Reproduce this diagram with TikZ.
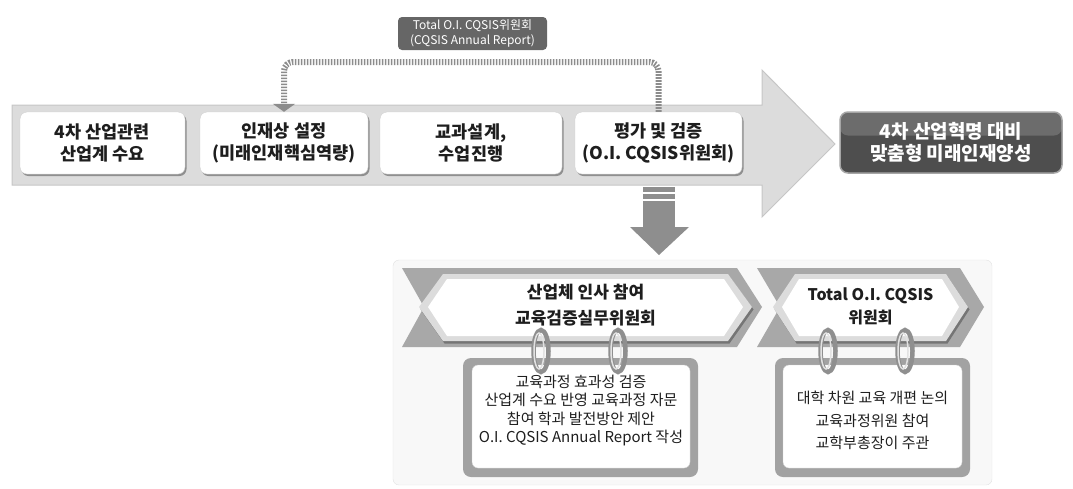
\documentclass[tikz,border=0pt]{standalone}
\usepackage{fontspec}
\setmainfont{Noto Sans CJK KR}
\usetikzlibrary{arrows.meta,shadows}

\definecolor{arrowfill}{HTML}{DCDCDC}
\definecolor{arrowedge}{HTML}{C6C6C6}
\definecolor{boxedge}{HTML}{D0D0D0}
\definecolor{textdark}{HTML}{1E1E1E}
\definecolor{dotgray}{HTML}{8C8C8C}
\definecolor{tagfill}{HTML}{666666}
\definecolor{goallow}{HTML}{4E4E4E}
\definecolor{goaltop}{HTML}{6C6C6C}
\definecolor{goaledge}{HTML}{A6A6A6}
\definecolor{downgray}{HTML}{8E8E8E}
\definecolor{panelfill}{HTML}{F8F8F8}
\definecolor{paneledge}{HTML}{E2E2E2}
\definecolor{bandgray}{HTML}{A8A8A8}
\definecolor{bevel}{HTML}{DCDCDC}
\definecolor{cardgray}{HTML}{A2A2A2}
\definecolor{ringdark}{HTML}{8F8F8F}
\definecolor{ringlight}{HTML}{E2E2E2}

\tikzset{
  flowbox/.style={draw=boxedge, fill=white, rounded corners=7pt,
    minimum height=62pt, align=center, inner sep=0pt, text=textdark,
    font=\fontsize{17.5}{22}\selectfont\bfseries,
    drop shadow={shadow xshift=1.5pt, shadow yshift=-2pt, fill=black, opacity=0.35}},
  goalbox/.style={draw=goaledge, line width=1.5pt, fill=goallow, rounded corners=8pt,
    align=center, inner sep=0pt, text=white,
    font=\fontsize{19}{22}\selectfont\bfseries,
    path picture={\fill[goaltop] (path picture bounding box.north west)
      rectangle ([yshift=7pt]path picture bounding box.east);}},
  tagbox/.style={fill=tagfill, rounded corners=4pt, align=center, inner sep=0pt,
    text=white, font=\fontsize{12}{15.5}\selectfont},
  dotconn/.style={draw=dotgray, line width=6pt, dash pattern=on 1.6pt off 1.4pt,
    rounded corners=9pt, -{Triangle[width=22pt,length=8pt]}},
  hexlabel/.style={align=center, inner sep=0pt, text=textdark},
  cardtext/.style={align=center, inner sep=0pt, text=textdark},
  ring/.style={draw=ringdark, line width=4.5pt},
  ringshine/.style={draw=ringlight, line width=1.5pt},
}

\begin{document}
\begin{tikzpicture}[x=1pt,y=-1pt]
\useasboundingbox (0,0) rectangle (1073,488);

% main process arrow
\fill[arrowfill, draw=arrowedge, line width=1pt]
  (12,105) -- (762,105) -- (762,70) -- (835,144) -- (762,217) -- (762,185) -- (12,185) -- cycle;

% process steps
\node[flowbox, minimum width=165pt] (b1) at (102.5,143) {4차 산업관련\\산업계 수요};
\node[flowbox, minimum width=168pt] (b2) at (284,143) {인재상 설정\\(미래인재핵심역량)};
\node[flowbox, minimum width=182pt] (b3) at (471,143) {교과설계,\\수업진행};
\node[flowbox, minimum width=167pt] (b4) at (658.5,143) {평가 및 검증\\(O.I. CQSIS위원회)};

% goal
\node[goalbox, minimum width=222pt, minimum height=61pt] (goal) at (951,142.5)
  {4차 산업혁명 대비\\맞춤형 미래인재양성};

% feedback loop
\node[tagbox, minimum width=149pt, minimum height=33pt] (tag) at (472.5,33.5)
  {Total O.I. CQSIS위원회\\(CQSIS Annual Report)};
\coordinate (loop) at (472,62);
\draw[dotconn] (b4.north) |- (loop) -| (b2.north);

% downward arrow
\fill[downgray] (643,187) rectangle (675,192);
\fill[downgray] (643,194) rectangle (675,199);
\fill[downgray] (643,201) rectangle (675,228);
\fill[downgray] (630,227) -- (689,227) -- (659,255) -- cycle;

% committee panel
\filldraw[fill=panelfill, draw=paneledge, rounded corners=6pt] (393,260) rectangle (992,485);

% chevron bands
\fill[bandgray] (402,268) -- (737,268) -- (762,307) -- (737,347) -- (402,347) -- (424,307) -- cycle;
\fill[bandgray] (757,268) -- (960,268) -- (984,307) -- (960,347) -- (757,347) -- (780,307) -- cycle;

% hexagon plates
\fill[bevel, drop shadow={shadow xshift=1.5pt, shadow yshift=-2.5pt, fill=black, opacity=0.3}]
  (419,307) -- (443,274) -- (728,274) -- (752,307) -- (728,341) -- (443,341) -- cycle;
\fill[white] (428,307) -- (447,279) -- (724,279) -- (743,307) -- (724,336) -- (447,336) -- cycle;
\fill[bevel, drop shadow={shadow xshift=1.5pt, shadow yshift=-2.5pt, fill=black, opacity=0.3}]
  (773,307) -- (795,274) -- (946,274) -- (968,307) -- (946,341) -- (795,341) -- cycle;
\fill[white] (782,307) -- (799,279) -- (942,279) -- (959,307) -- (942,336) -- (799,336) -- cycle;

% cards
\fill[cardgray, rounded corners=8pt] (463,358) rectangle (698,477);
\filldraw[fill=white, draw=boxedge, rounded corners=6pt] (472,365) rectangle (690,468);
\fill[cardgray, rounded corners=8pt] (775,358) rectangle (970,477);
\filldraw[fill=white, draw=boxedge, rounded corners=6pt] (783,365) rectangle (962,468);

% binder rings
\foreach \rx in {541,618,828,905} {
  \draw[ring] (\rx,351) ellipse [x radius=7.5pt, y radius=21pt];
  \draw[ringshine] (\rx-2,351) ellipse [x radius=5pt, y radius=18pt];
}

% committee texts
\node[hexlabel, font=\fontsize{17}{26}\selectfont\bfseries] (h1) at (585.5,305.5)
  {산업체 인사 참여\\교육검증실무위원회};
\node[hexlabel, font=\fontsize{16}{23}\selectfont\bfseries] (h2) at (870.5,306.5)
  {Total O.I. CQSIS\\위원회};
\node[cardtext, font=\fontsize{15}{18.5}\selectfont] (c1) at (581,410.5)
  {교육과정 효과성 검증\\산업계 수요 반영 교육과정 자문\\참여 학과 발전방안 제안\\O.I. CQSIS Annual Report 작성};
\node[cardtext, font=\fontsize{15}{22.5}\selectfont] (c2) at (872.5,420.5)
  {대학 차원 교육 개편 논의\\교육과정위원 참여\\교학부총장이 주관};
\end{tikzpicture}
\end{document}
